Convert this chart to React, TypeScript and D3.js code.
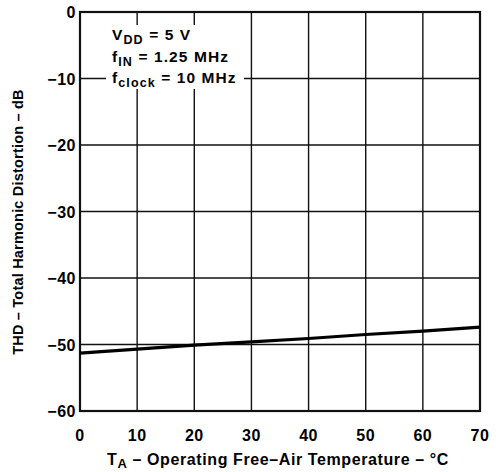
import React from "react";
import * as d3 from "d3";

const temps = [0, 10, 20, 30, 40, 50, 60, 70];
const thd = [-51.3, -50.7, -50.1, -49.6, -49.1, -48.5, -48.0, -47.4];
const xTicks = [0, 10, 20, 30, 40, 50, 60, 70];
const yTicks = [0, -10, -20, -30, -40, -50, -60];

const W = 496;
const H = 472;
const M = { left: 80, right: 480, top: 12, bottom: 411 };
const FONT = "Liberation Sans, Arial, Helvetica, sans-serif";

export default function App() {
  const x = d3.scaleLinear().domain([0, 70]).range([M.left, M.right]);
  const y = d3.scaleLinear().domain([-60, 0]).range([M.bottom, M.top]);
  const line = d3
    .line<number>()
    .x((_, i) => x(temps[i]))
    .y((d) => y(d));

  return (
    <svg
      width={W}
      height={H}
      style={{ position: "absolute", left: 0, top: 0, background: "#fff" }}
      fontFamily={FONT}
      fontWeight="bold"
    >
      {xTicks.map((t) => (
        <line key={"gx" + t} x1={x(t)} x2={x(t)} y1={M.top} y2={M.bottom} stroke="#111" strokeWidth={1.4} />
      ))}
      {yTicks.map((t) => (
        <line key={"gy" + t} x1={M.left} x2={M.right} y1={y(t)} y2={y(t)} stroke="#111" strokeWidth={1.4} />
      ))}
      {/* annotation background to hide grid */}
      <rect x={106} y={25} width={138} height={64} fill="#fff" />
      <rect x={M.left} y={M.top} width={M.right - M.left} height={M.bottom - M.top} fill="none" stroke="#111" strokeWidth={2.2} />
      <path d={line(thd) || ""} fill="none" stroke="#000" strokeWidth={3.2} />
      {xTicks.map((t) => (
        <text key={"tx" + t} x={x(t)} y={441} textAnchor="middle" fontSize={16} letterSpacing={0.5} fill="#000">
          {t}
        </text>
      ))}
      {yTicks.map((t) => (
        <text key={"ty" + t} x={M.left - 4} y={y(t) + 6} textAnchor="end" fontSize={16} letterSpacing={0.5} fill="#000">
          {t === 0 ? "0" : "\u2212" + Math.abs(t)}
        </text>
      ))}
      <g fontSize={15.5} letterSpacing={1.1} fill="#000">
        <text x={112} y={40}>
          V<tspan fontSize={12.5} dy={4}>DD</tspan>
          <tspan dy={-4}> = 5 V</tspan>
        </text>
        <text x={112} y={62}>
          f<tspan fontSize={12.5} dy={4}>IN</tspan>
          <tspan dy={-4}> = 1.25 MHz</tspan>
        </text>
        <text x={112} y={83}>
          f<tspan fontSize={12.5} dy={4}>clock</tspan>
          <tspan dy={-4}> = 10 MHz</tspan>
        </text>
      </g>
      <text x={278} y={465} textAnchor="middle" fontSize={16} letterSpacing={0.6} fill="#000">
        T<tspan fontSize={13} dy={3}>A</tspan>
        <tspan dy={-3}> – Operating Free–Air Temperature – °C</tspan>
      </text>
      <text
        transform={`translate(23, 222) rotate(-90)`}
        textAnchor="middle"
        fontSize={14.5}
        letterSpacing={0.2}
        fill="#000"
      >
        THD – Total Harmonic Distortion – dB
      </text>
    </svg>
  );
}
